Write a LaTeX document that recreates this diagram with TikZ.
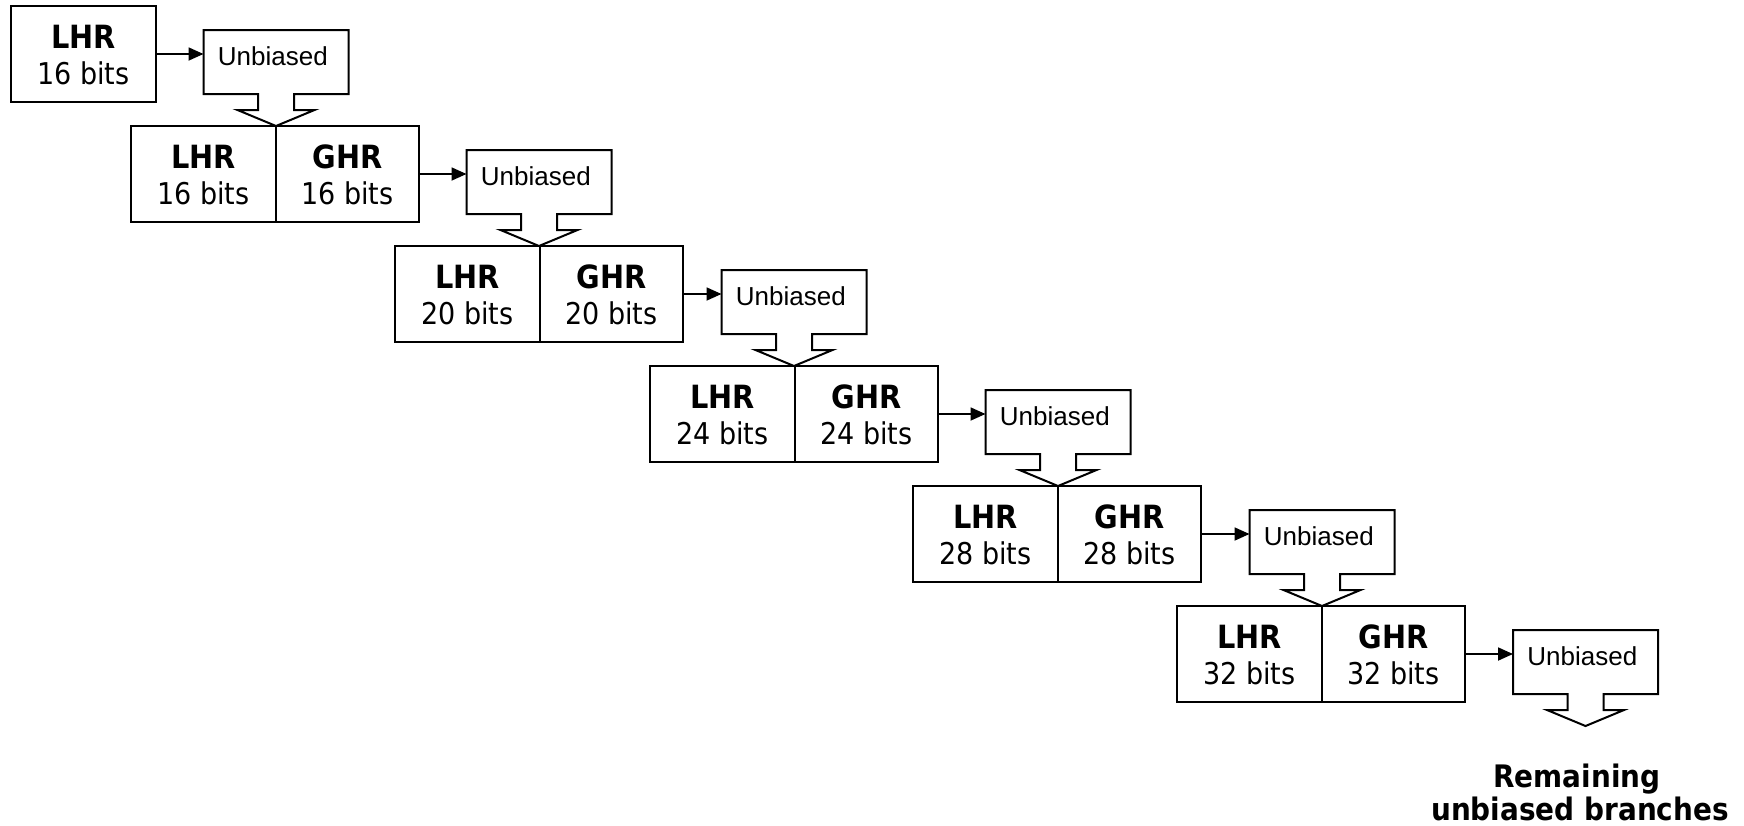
\documentclass[tikz,border=0pt]{standalone}
\usepackage{fontspec}
\usetikzlibrary{calc,arrows.meta}
\newfontfamily\boxfont[FakeStretch=0.9]{DejaVu Sans}
\newfontfamily\calloutfont{Liberation Sans}

\tikzset{
  cellbox/.style={draw, line width=1pt, minimum width=#1, minimum height=48pt,
    inner sep=0pt, outer sep=0pt, anchor=north west},
  calloutbox/.style={minimum width=72.5pt, minimum height=32pt, inner sep=0pt, outer sep=0pt, anchor=north},
  outline/.style={draw, fill=white, line width=1pt},
  regtext/.style={anchor=base, inner sep=0pt, font=\boxfont\fontsize{15}{18}\selectfont},
  boldtext/.style={anchor=base, inner sep=0pt, font=\boxfont\bfseries\fontsize{16}{18}\selectfont},
  utext/.style={anchor=base west, inner sep=0pt, font=\calloutfont\fontsize{13}{15}\selectfont},
  arr/.style={line width=0.9pt, -{Triangle[length=7.5pt,width=6.5pt]}},
}

\begin{document}
\begin{tikzpicture}[x=0.5pt, y=-0.5pt]
  \fill[white] (0,0) rectangle (1744,825);
  \useasboundingbox (0,0) rectangle (1744,825);

  % single local-history register
  \node[cellbox=72.5pt] (l1) at (11,6) {};
  \node[boldtext] (lh1) at ($(l1.north)+(0,42)$) {LHR};
  \node[regtext]  (lb1) at ($(l1.north)+(0,78)$) {16 bits};

  % combined local/global history registers
  \foreach \i/\x/\y/\n in {2/131/126/16, 3/395/246/20, 4/650/366/24, 5/913/486/28, 6/1177/606/32} {
    \node[cellbox=72.5pt] (l\i) at (\x,\y) {};
    \node[cellbox=71.5pt] (g\i) at (l\i.north east) {};
    \node[boldtext] (lh\i) at ($(l\i.north)+(0,42)$) {LHR};
    \node[regtext]  (lb\i) at ($(l\i.north)+(0,78)$) {\n\ bits};
    \node[boldtext] (gh\i) at ($(g\i.north)+(0,42)$) {GHR};
    \node[regtext]  (gb\i) at ($(g\i.north)+(0,78)$) {\n\ bits};
  }

  % "Unbiased" callouts with their downward block arrows
  \foreach \i/\cx/\t/\src in {1/276/30/l1, 2/539/150/g2, 3/794/270/g3, 4/1058/390/g4, 5/1322/510/g5, 6/1585.5/630/g6} {
    \node[calloutbox] (u\i) at (\cx,\t) {};
    \draw[outline] (u\i.south west) -- (u\i.north west) -- (u\i.north east) -- (u\i.south east)
      -- ($(u\i.south)+(18,0)$) -- ++(0,16) -- ++(20.5,0) -- ($(u\i.south)+(0,32)$)
      -- ($(u\i.south)+(-38.5,16)$) -- ++(20.5,0) -- ++(0,-16) -- cycle;
    \node[utext] (ut\i) at ($(u\i.north west)+(14,35)$) {Unbiased};
    \draw[arr] (\src.east) -- (\src.east -| u\i.west);
  }

  % final outcome
  \node[boldtext, font=\boxfont\bfseries\fontsize{15.5}{18}\selectfont] (rem1) at (1577,787) {Remaining};
  \node[boldtext, font=\boxfont\bfseries\fontsize{15.5}{18}\selectfont] (rem2) at (1580,820) {unbiased branches};
\end{tikzpicture}
\end{document}
